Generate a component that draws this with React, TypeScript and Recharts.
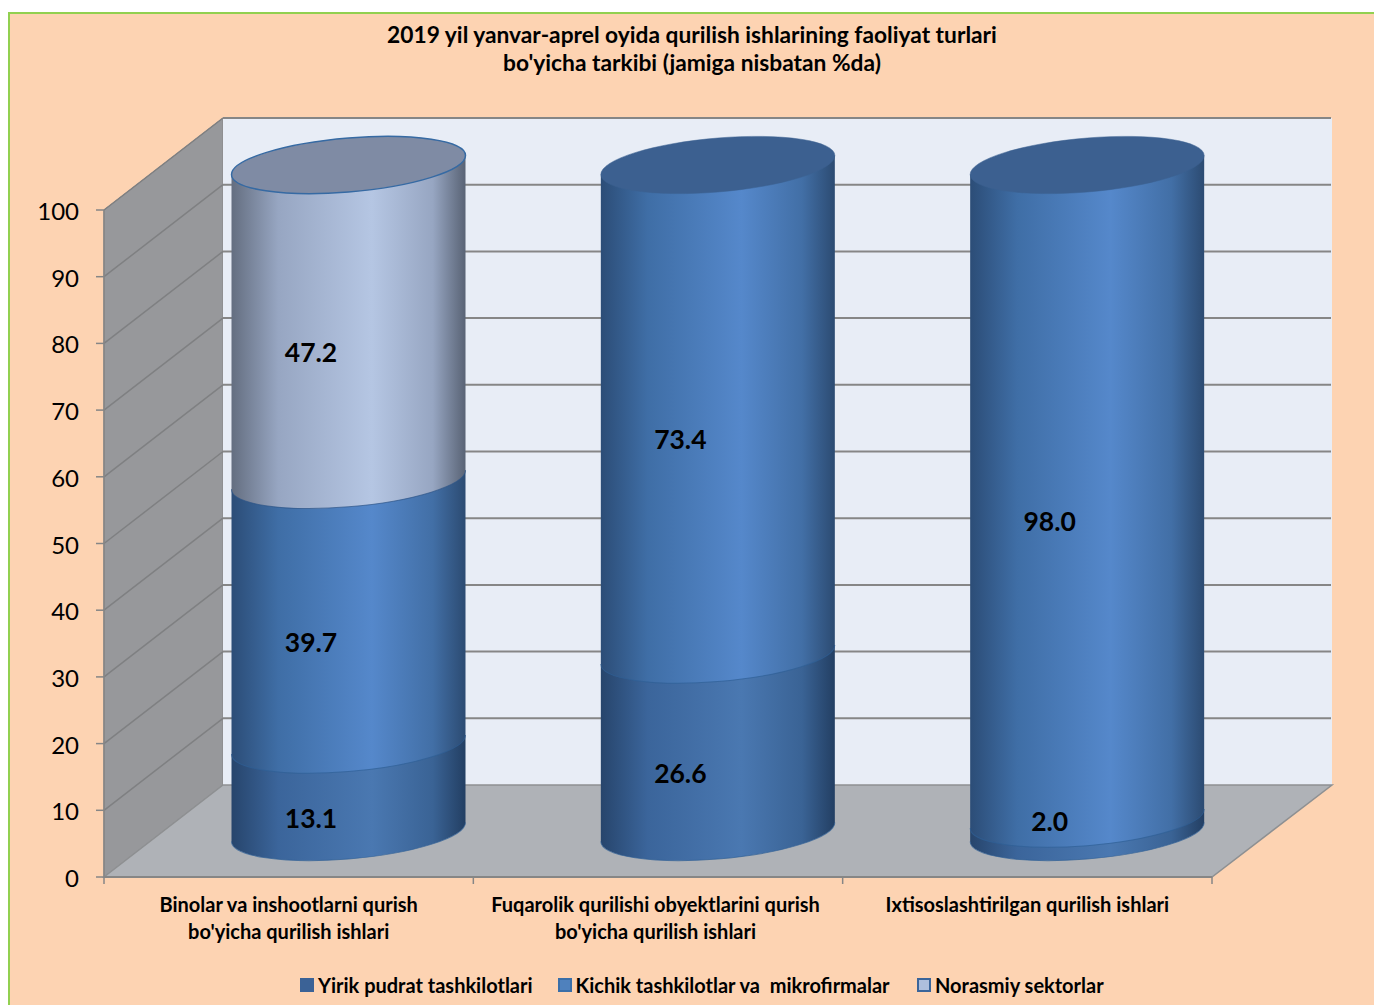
import React from 'react';
import { BarChart, Bar, XAxis, YAxis, ReferenceArea, ReferenceLine, LabelList, Legend } from 'recharts';

const categories = [
  'Binolar va inshootlarni qurish\nbo\'yicha qurilish ishlari',
  'Fuqarolik qurilishi obyektlarini qurish\nbo\'yicha qurilish ishlari',
  'Ixtisoslashtirilgan qurilish ishlari',
];
const seriesNames = ['Yirik pudrat tashkilotlari', 'Kichik tashkilotlar va  mikrofirmalar', 'Norasmiy sektorlar'];
const yirik = [13.1, 26.6, 2.0];
const kichik = [39.7, 73.4, 98.0];
const norasmiy: (number | null)[] = [47.2, null, null];
const yTicks = [0, 10, 20, 30, 40, 50, 60, 70, 80, 90, 100];
const titleLines = ['2019 yil yanvar-aprel oyida qurilish ishlarining faoliyat turlari', "bo'yicha tarkibi (jamiga nisbatan %da)"];

const data = categories.map((category, i) => ({ category, a: yirik[i], b: kichik[i], c: norasmiy[i] }));

const FONT = 'Lato, sans-serif';
const DEPTH_X = 119;
const DEPTH_Y = 92;
const GRID = '#868686';
const swatch = [
  { fill: '#3B6296', border: '#3B6296' },
  { fill: '#4F81BD', border: '#3B6FA8' },
  { fill: '#AEBFDD', border: '#3B659A' },
];
const stops = [
  ['#27456C', '#3B659B', '#4A78B1', '#3A6395', '#233F63'],
  ['#2C4D77', '#3F6EA6', '#5588CB', '#426FA6', '#2C4B72'],
  ['#646E80', '#97A6C2', '#B5C6E3', '#97A6C2', '#596375'],
];
const topFill = ['#3C6090', '#3C6090', '#7F8BA4'];
const topStroke = ['#3C6090', '#3C6090', '#366AA3'];

const SHEAR = 9.5;
const RY = 27;
const CX_SHIFT = 59.5;
const CY_SHIFT = 45;

const makeCylinder = (series: number) => (props: any) => {
  const { x, y, width, height, payload } = props;
  const key = ['a', 'b', 'c'][series];
  if (payload[key] == null || !(height > 0)) return null;
  const a = width / 2;
  const cx = x + a + CX_SHIFT;
  const top = y - CY_SHIFT;
  const bottom = y + height - CY_SHIFT;
  const isTop = series === 2 || (series === 1 && payload.c == null);
  return (
    <g transform={`matrix(1,${-SHEAR / a},0,1,${cx},0)`}>
      <path
        d={`M${-a},${top} L${a},${top} L${a},${bottom} A${a},${RY} 0 0 1 ${-a},${bottom} Z`}
        fill={`url(#cyl${series})`}
      />
      <path d={`M${-a},${bottom} A${a},${RY} 0 0 0 ${a},${bottom}`} fill="none" stroke={series === 2 ? '#2F5688' : '#2F5F95'} strokeWidth={1} strokeOpacity={0.7} />
      {isTop && <ellipse cx={0} cy={top} rx={a} ry={RY} fill={topFill[series]} stroke={topStroke[series]} strokeWidth={series === 2 ? 1.5 : 0.5} />}
    </g>
  );
};

const Walls = (props: any) => {
  const { x, y, width, height } = props;
  const r = x + width;
  const b = y + height;
  return (
    <g>
      <polygon points={`${x},${y} ${x + DEPTH_X},${y - DEPTH_Y} ${x + DEPTH_X},${b - DEPTH_Y} ${x},${b}`} fill="#97989B" stroke={GRID} strokeWidth={1} />
      <rect x={x + DEPTH_X} y={y - DEPTH_Y} width={width + 1} height={height} fill="#E8EDF6" />
      <polygon points={`${x},${b} ${x + DEPTH_X},${b - DEPTH_Y} ${r + DEPTH_X + 1},${b - DEPTH_Y} ${r},${b}`} fill="#AFB2B7" stroke="#8E9092" strokeWidth={1.5} />
      {[0, 1, 2, 3].map((i) => (
        <line key={i} x1={x + (width * i) / 3} x2={x + (width * i) / 3} y1={b} y2={b + 7} stroke={GRID} strokeWidth={1.5} />
      ))}
    </g>
  );
};

const GridLine = (props: any) => {
  const { x1, x2, y1 } = props;
  return (
    <g>
      <line x1={x1} y1={y1} x2={x1 + DEPTH_X} y2={y1 - DEPTH_Y} stroke="#7F8082" strokeWidth={1.5} />
      <line x1={x1 + DEPTH_X} y1={y1 - DEPTH_Y} x2={x2 + DEPTH_X} y2={y1 - DEPTH_Y} stroke={GRID} strokeWidth={2} />
    </g>
  );
};

const CategoryTick = (props: any) => {
  const { x, payload, index } = props;
  const lines = String(payload.value).split('\n');
  const cx = index === 1 ? x - 2.5 : x;
  return (
    <text textAnchor="middle" fontFamily={FONT} fontWeight={700} fontSize={20} fill="#000">
      {lines.map((line, i) => (
        <tspan key={i} x={cx} y={912 + i * 26.5}>{line}</tspan>
      ))}
    </text>
  );
};

const ValueLabel = (props: any) => {
  const { x, y, width, height, value } = props;
  if (value == null) return null;
  const cy = y + height / 2 - 15.5 - (height < 20 ? 34 : 0);
  return (
    <text x={x + width / 2 + 22} y={cy} textAnchor="middle" dominantBaseline="central" fontFamily={FONT} fontWeight={700} fontSize={26.5} fill="#000">
      {Number(value).toFixed(1)}
    </text>
  );
};

const LegendContent = () => (
  <div style={{ position: 'relative', height: 40, fontFamily: FONT, fontWeight: 700, fontSize: 20, color: '#000', whiteSpace: 'pre' }}>
    {seriesNames.map((name, i) => (
      <span key={name} style={{ position: 'absolute', left: [300, 557.5, 917][i], top: 8, display: 'flex', alignItems: 'center', gap: 4 }}>
        <span style={{ display: 'inline-block', width: 10, height: 10, background: swatch[i].fill, border: `2px solid ${swatch[i].border}` }} />
        <span>{name}</span>
      </span>
    ))}
  </div>
);

export default function App() {
  return (
    <div style={{ position: 'absolute', left: 0, top: 0, width: 1374, height: 1005, background: '#fff', overflow: 'hidden' }}>
      <div style={{ position: 'absolute', left: 8, top: 12, width: 1366, height: 993, boxSizing: 'border-box', background: '#FDD3B2', borderLeft: '2px solid #92D050', borderTop: '2px solid #92D050' }} />
      <div style={{ position: 'absolute', left: 0, top: 21, width: 1384, textAlign: 'center', fontFamily: FONT, fontWeight: 700, fontSize: 22.75, lineHeight: '28px', color: '#000' }}>
        {titleLines.map((l) => <div key={l}>{l}</div>)}
      </div>
      <div style={{ position: 'absolute', left: 0, top: 0 }}>
        <BarChart width={1374} height={1005} data={data} margin={{ top: 210, right: 162, left: 0, bottom: 0 }} barCategoryGap={0}>
          <defs>
            {stops.map((s, i) => (
              <linearGradient key={i} id={`cyl${i}`} x1="0" x2="1" y1="0" y2="0">
                <stop offset="0" stopColor={s[0]} />
                <stop offset="0.2" stopColor={s[1]} />
                <stop offset="0.6" stopColor={s[2]} />
                <stop offset="0.86" stopColor={s[3]} />
                <stop offset="1" stopColor={s[4]} />
              </linearGradient>
            ))}
          </defs>
          <ReferenceArea y1={0} y2={100} shape={Walls} ifOverflow="visible" />
          {yTicks.slice(1).map((t) => (
            <ReferenceLine key={t} y={t} shape={GridLine} ifOverflow="visible" zIndex={150} />
          ))}
          <XAxis dataKey="category" interval={0} height={88} tickLine={false} axisLine={{ stroke: GRID, strokeWidth: 2 }} tick={CategoryTick} />
          <YAxis width={104} domain={[0, 100]} ticks={yTicks} tickSize={8} tickMargin={17} axisLine={{ stroke: GRID, strokeWidth: 1.5 }} tickLine={{ stroke: GRID, strokeWidth: 1.5 }} tick={{ fontFamily: FONT, fontSize: 24, fill: '#000', dy: 1.5 }} />
          <Legend verticalAlign="bottom" height={40} content={LegendContent} wrapperStyle={{ left: 0, width: 1374, height: 40 }} />
          <Bar dataKey="a" name={seriesNames[0]} stackId="s" fill={swatch[0].fill} barSize={234} isAnimationActive={false} shape={makeCylinder(0)}>
            <LabelList dataKey="a" content={ValueLabel} />
          </Bar>
          <Bar dataKey="b" name={seriesNames[1]} stackId="s" fill={swatch[1].fill} barSize={234} isAnimationActive={false} shape={makeCylinder(1)}>
            <LabelList dataKey="b" content={ValueLabel} />
          </Bar>
          <Bar dataKey="c" name={seriesNames[2]} stackId="s" fill={swatch[2].fill} barSize={234} isAnimationActive={false} shape={makeCylinder(2)}>
            <LabelList dataKey="c" content={ValueLabel} />
          </Bar>
        </BarChart>
      </div>
    </div>
  );
}
